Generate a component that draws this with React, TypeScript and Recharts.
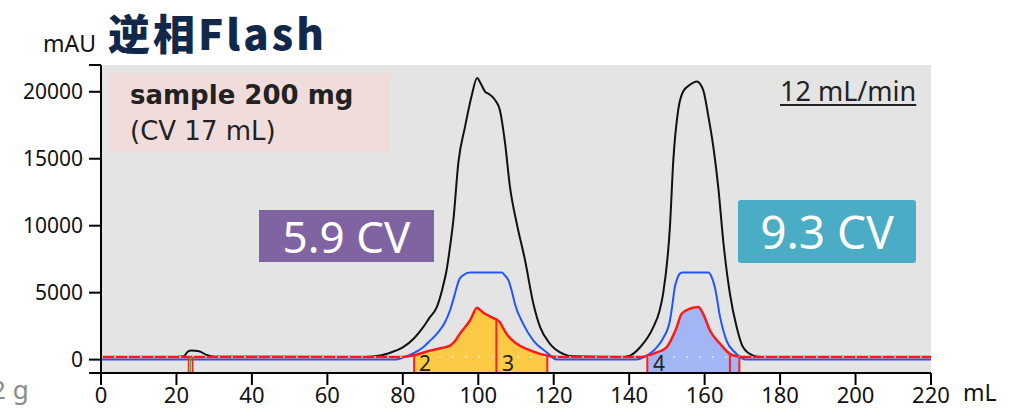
import React from "react";
import {
  ComposedChart,
  Line,
  Area,
  XAxis,
  YAxis,
  CartesianGrid,
  ReferenceLine,
  ReferenceDot,
} from "recharts";

// UV traces, [mL, mAU]
const uvBlack: [number, number][] = [
  [0, 200], [20, 200], [22, 250], [23, 600], [24, 680], [26, 620], [28, 350], [30, 220],
  [70, 200], [74, 300], [77, 550], [80, 920], [83, 1600], [85.4, 2420], [87, 3100],
  [89, 3920], [90.5, 5300], [91.6, 6670], [92.6, 8600], [93.4, 10410], [94.7, 14660],
  [96.5, 17400], [98.2, 19650], [99.7, 21030], [100.5, 20700], [101.8, 20020],
  [103, 19800], [104.4, 19400], [105.7, 18650], [107.1, 16160], [108.4, 12900],
  [110.2, 10160], [112.4, 7420], [114.6, 4170], [116.4, 2420], [119, 1180], [122.5, 430],
  [125, 250], [138, 200], [140.2, 300], [142.9, 920], [146.4, 2420], [148, 3600],
  [149, 4920], [150.8, 9910], [151.7, 14900], [153, 18650], [154.3, 20020],
  [156.1, 20520], [157.9, 20770], [159.6, 20150], [161, 18150], [162.3, 15900],
  [163.6, 12900], [165, 8670], [166.7, 4920], [168.5, 2420], [170.2, 920], [172.9, 300],
  [175, 200], [220, 200],
];

const uvBlue: [number, number][] = [
  [0, 0], [78, 0], [80, 150], [83, 500], [85.4, 920], [87, 1350], [89, 1920], [91, 2700],
  [92.5, 3670], [93.5, 4600], [94.3, 5420], [95, 6000], [96, 6300], [97.8, 6500],
  [106.2, 6500], [107, 6300], [108, 5920], [109, 5000], [109.7, 4170], [111.9, 2670],
  [114.6, 1420], [118.1, 550], [120.8, 0], [142, 0], [144, 200], [147.3, 920],
  [149, 1600], [150.8, 2920], [151.5, 4200], [152.1, 5420], [152.8, 6100], [153.4, 6420],
  [154.2, 6500], [161, 6500], [161.8, 6200], [162.7, 5420], [164.1, 3170], [165.8, 1420],
  [168, 550], [171, 0], [220, 0],
];

const uvRed: [number, number][] = [
  [0, 200], [80, 200], [83, 330], [87.2, 670], [90, 850], [92.5, 1050], [94, 1450],
  [95.1, 1920], [97.8, 2920], [99.7, 3870], [100.5, 3700], [101.8, 3420], [103, 3250],
  [104.4, 3050], [104.8, 3000], [105.7, 2800], [106.5, 2400], [107.5, 1920],
  [110.2, 1180], [112.8, 800], [116.4, 430], [118.3, 300], [119, 250], [121, 200],
  [143, 200], [144.8, 280], [147, 500], [149.9, 920], [151.5, 1700], [152.6, 2420],
  [153.9, 3420], [156.1, 3800], [158.3, 3920], [159.6, 3420], [161.4, 2170],
  [164.1, 1180], [166.7, 430], [168.5, 250], [169.2, 220], [171, 200], [220, 200],
];

// fractions: [start, end] and cut lines
const yellowRange: [number, number] = [83, 118.3];
const blueRange: [number, number] = [144.8, 169.2];
const fractionCuts = [83, 104.8, 118.3, 144.8, 166.7, 169.2];
const fractionLabels: [string, number][] = [["2", 85.9], ["3", 107.9], ["4", 147.9]];
const smallFraction = [23.2, 24.3];
const threshold = 200;

const xTicks = [0, 20, 40, 60, 80, 100, 120, 140, 160, 180, 200, 220];
const yTicks = [-1000, 0, 5000, 10000, 15000, 20000, 22000];

const toPts = (arr: [number, number][]) => arr.map(([x, y]) => ({ x, y }));
const redAt = (x: number) => uvRed.find((p) => p[0] === x)?.[1] ?? threshold;
const slice = (r: [number, number]) => toPts(uvRed.filter((p) => p[0] >= r[0] && p[0] <= r[1]));

const font = "'Noto Sans', sans-serif";
const wide = "'DejaVu Sans', sans-serif";

export default function App() {
  return (
    <div style={{ position: "absolute", left: 0, top: 0, width: 1013, height: 411, background: "#fff", fontFamily: font, overflow: "hidden" }}>
      <ComposedChart width={1013} height={411} margin={{ top: 65, right: 82, bottom: 0, left: 8 }}>
        <CartesianGrid horizontal={false} vertical={false} fill="#e4e4e4" />
        <XAxis
          type="number"
          dataKey="x"
          domain={[0, 220]}
          ticks={xTicks}
          interval={0}
          height={38}
          tickSize={12}
          tickMargin={2}
          axisLine={{ stroke: "#000", strokeWidth: 2 }}
          tickLine={{ stroke: "#000", strokeWidth: 2 }}
          tick={{ fill: "#111", fontSize: 22, fontFamily: font }}
          allowDataOverflow
        />
        <YAxis
          type="number"
          domain={[-1000, 22000]}
          ticks={yTicks}
          interval={0}
          width={93}
          tickSize={12}
          tickMargin={6}
          axisLine={{ stroke: "#000", strokeWidth: 2 }}
          tickLine={{ stroke: "#000", strokeWidth: 2 }}
          tick={{ fill: "#111", fontSize: 21, fontFamily: font }}
          tickFormatter={(v: number) => (v < 0 || v > 20000 ? "" : String(v))}
          allowDataOverflow
        />
        <Line data={toPts(uvBlack)} dataKey="y" type="monotone" stroke="#111" strokeWidth={2} dot={false} isAnimationActive={false} />
        <Line data={toPts(uvBlue)} dataKey="y" type="monotone" stroke="#2255ff" strokeWidth={2} dot={false} isAnimationActive={false} />
        <Area data={slice(yellowRange)} dataKey="y" type="monotone" baseValue={-1000} stroke="none" fill="#fdca45" fillOpacity={1} isAnimationActive={false} />
        <Area data={slice(blueRange)} dataKey="y" type="monotone" baseValue={-1000} stroke="none" fill="#a2b6f6" fillOpacity={1} isAnimationActive={false} />
        <Line data={toPts(uvRed)} dataKey="y" type="monotone" stroke="#ff1a1a" strokeWidth={2.5} dot={false} isAnimationActive={false} />
        <ReferenceLine y={threshold} stroke="#e8e8e8" strokeWidth={1.5} strokeDasharray="2 11" />
        {fractionCuts.map((c) => (
          <ReferenceLine key={c} segment={[{ x: c, y: -1000 }, { x: c, y: redAt(c) }]} stroke="#ff2020" strokeWidth={2} />
        ))}
        {smallFraction.map((c) => (
          <ReferenceLine key={c} segment={[{ x: c, y: -1000 }, { x: c, y: threshold }]} stroke="#ff2020" strokeWidth={1.5} />
        ))}
        <ReferenceLine segment={[{ x: 23.75, y: -1000 }, { x: 23.75, y: threshold }]} stroke="#3cb44b" strokeWidth={1.5} />
        {fractionLabels.map(([t, x]) => (
          <ReferenceDot key={t} x={x} y={-300} r={0} fill="none" stroke="none"
            label={{ value: t, position: "center", fontSize: 21, fill: "#222", fontFamily: font }} />
        ))}
      </ComposedChart>

      <div style={{ position: "absolute", left: 108, top: 9, fontFamily: "'Noto Sans CJK JP', sans-serif", fontWeight: 900, fontSize: 42, lineHeight: 1.1, color: "#12284a", letterSpacing: 3 }}>
        逆相Flash
      </div>
      <div style={{ position: "absolute", left: 43, top: 32, fontSize: 23, lineHeight: 1, color: "#111" }}>mAU</div>
      <div style={{ position: "absolute", left: 963, top: 381, fontSize: 23, lineHeight: 1, color: "#111" }}>mL</div>
      <div style={{ position: "absolute", left: -9, top: 376, fontSize: 26, lineHeight: 1, color: "#8a8a8a" }}>2 g</div>

      <div style={{ position: "absolute", left: 110, top: 73, width: 280, height: 79, background: "#f1dcdc" }} />
      <div style={{ position: "absolute", left: 130, top: 82, fontFamily: wide, fontSize: 26, fontWeight: 700, lineHeight: 1, color: "#222" }}>sample 200 mg</div>
      <div style={{ position: "absolute", left: 130, top: 118, fontFamily: wide, fontSize: 26, lineHeight: 1, color: "#222" }}>(CV 17 mL)</div>

      <div style={{ position: "absolute", left: 780, top: 77, fontSize: 27, lineHeight: 1, color: "#222", textDecoration: "underline", textUnderlineOffset: 3, textDecorationThickness: 1.5 }}>12 mL/min</div>

      <div style={{ position: "absolute", left: 259, top: 210, width: 175, height: 52, background: "#8064a2", color: "#fff", fontSize: 44, lineHeight: "52px", textAlign: "center" }}>5.9 CV</div>
      <div style={{ position: "absolute", left: 738, top: 200, width: 178, height: 63, background: "#4bacc6", borderRadius: 3, color: "#fff", fontSize: 46, lineHeight: "63px", textAlign: "center" }}>9.3 CV</div>
    </div>
  );
}
